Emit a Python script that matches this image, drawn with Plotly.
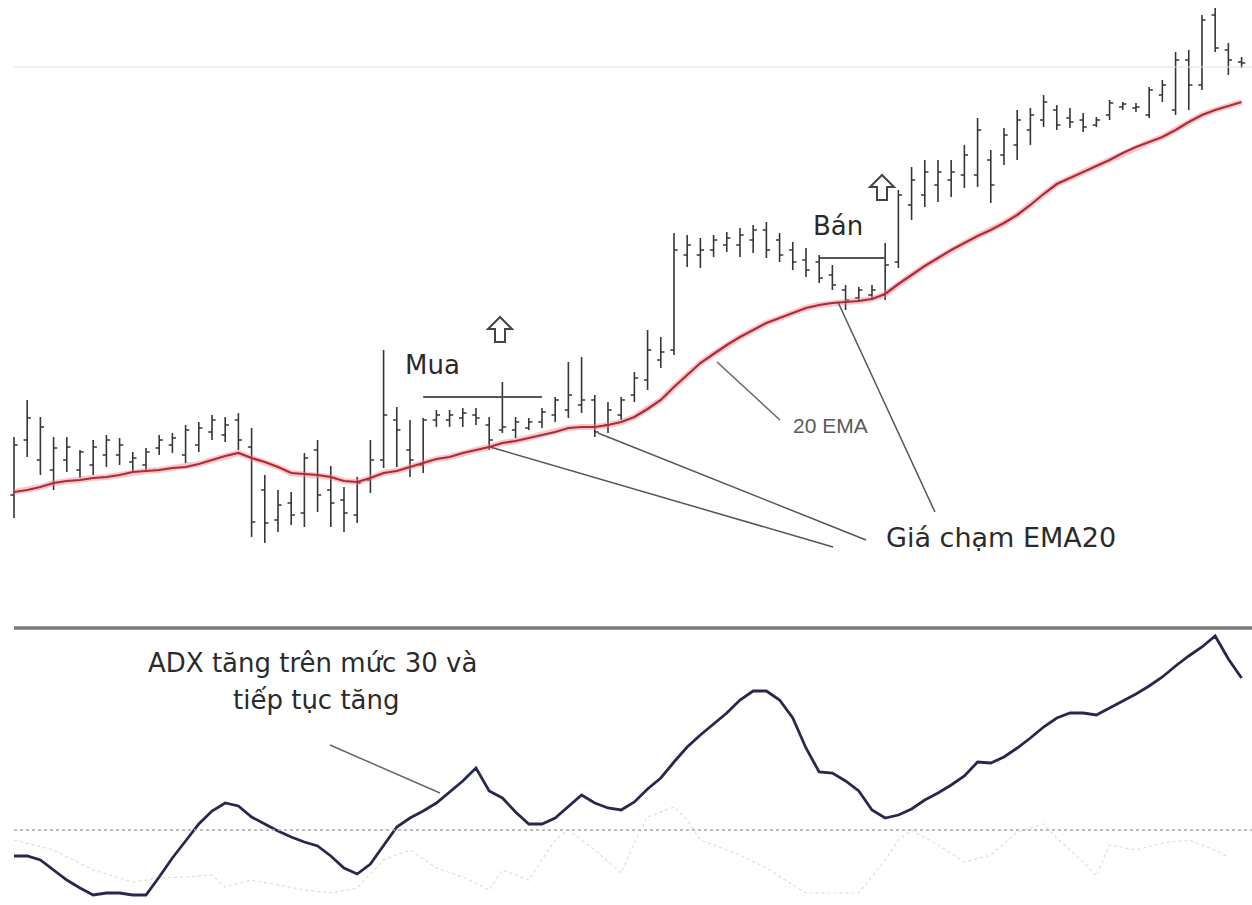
import plotly.graph_objects as go

# ---------------- data (price panel) ----------------
bar_idx = list(range(94))

high = [116.3, 120.0, 118.3, 116.3, 116.3, 115.0, 116.0, 116.5, 116.2, 114.8,
        115.2, 116.5, 116.7, 117.5, 117.8, 118.5, 118.3, 118.7, 117.2, 112.5,
        111.0, 110.8, 114.7, 116.0, 113.4, 111.3, 112.3, 116.0, 125.0, 119.3,
        118.0, 118.2, 119.0, 119.0, 119.2, 119.2, 118.3, 121.8, 118.3, 118.2,
        119.2, 120.3, 123.8, 124.3, 120.5, 119.8, 120.3, 122.8, 127.0, 126.3,
        136.7, 136.5, 136.2, 136.5, 136.8, 137.2, 137.5, 137.8, 136.7, 135.8,
        135.2, 134.5, 133.5, 131.5, 131.3, 131.5, 135.7, 141.0, 143.3, 144.0,
        144.0, 144.0, 145.5, 148.2, 145.0, 147.2, 149.0, 149.2, 150.5, 149.5,
        149.2, 148.7, 148.3, 150.0, 149.8, 149.7, 151.3, 152.0, 154.8, 155.0,
        158.5, 159.2, 155.7, 154.3]

low = [108.2, 114.3, 112.5, 111.0, 112.8, 112.2, 112.5, 113.3, 113.5, 112.8,
       112.9, 114.5, 114.7, 113.7, 114.8, 116.0, 115.8, 115.0, 106.3, 105.7,
       106.8, 107.5, 107.3, 108.8, 107.3, 106.8, 107.7, 110.7, 113.2, 113.3,
       112.3, 112.7, 117.3, 117.3, 117.3, 117.5, 115.0, 116.7, 116.2, 117.0,
       117.2, 117.8, 118.2, 118.7, 116.3, 116.7, 118.0, 119.8, 121.0, 123.2,
       124.5, 133.3, 133.2, 134.3, 134.8, 134.3, 134.7, 134.2, 133.8, 133.0,
       132.3, 131.7, 131.0, 129.0, 129.8, 130.0, 130.0, 133.2, 138.0, 139.3,
       139.8, 140.3, 141.2, 141.3, 139.7, 143.5, 144.0, 145.5, 147.3, 147.0,
       147.2, 146.8, 147.3, 148.0, 149.0, 148.8, 148.2, 149.8, 148.5, 149.0,
       151.0, 154.8, 152.5, 153.2]

open_ = [110.5, 116.0, 114.0, 113.0, 114.0, 113.0, 113.5, 114.5, 114.5, 113.8,
         113.5, 115.2, 115.5, 114.5, 115.5, 116.8, 116.5, 118.0, 115.3, 111.0,
         108.0, 109.7, 108.7, 115.0, 111.0, 110.0, 108.5, 112.0, 114.0, 118.0,
         115.0, 113.5, 118.0, 118.0, 118.2, 118.5, 117.5, 117.0, 117.0, 117.2,
         117.8, 118.5, 119.0, 119.5, 120.0, 117.5, 118.5, 120.5, 122.0, 124.0,
         125.0, 134.5, 134.5, 135.0, 135.5, 135.5, 136.0, 137.0, 136.0, 135.0,
         134.0, 133.8, 132.5, 131.0, 130.2, 130.5, 130.5, 133.8, 139.5, 140.5,
         141.5, 142.0, 142.5, 142.5, 144.0, 144.5, 145.5, 147.0, 148.0, 149.0,
         148.2, 148.0, 147.5, 148.5, 149.3, 149.2, 148.5, 150.5, 149.0, 154.0,
         151.5, 158.5, 155.0, 153.8]

close = [115.5, 118.2, 117.3, 115.2, 115.3, 114.8, 115.3, 116.0, 115.5, 114.2,
         114.8, 116.0, 116.2, 117.0, 117.2, 118.0, 117.5, 116.0, 107.8, 107.7,
         109.5, 108.5, 114.2, 110.5, 109.7, 108.7, 111.7, 114.0, 118.5, 117.0,
         114.0, 118.0, 118.5, 118.5, 118.7, 118.2, 116.0, 117.3, 117.8, 117.8,
         118.8, 120.0, 120.5, 120.0, 116.8, 119.0, 120.0, 122.2, 125.0, 124.8,
         135.0, 135.5, 135.0, 136.0, 136.2, 136.5, 137.0, 135.0, 134.5, 133.8,
         133.0, 132.2, 131.5, 130.0, 131.0, 131.0, 133.5, 140.5, 142.0, 142.8,
         142.8, 142.8, 144.5, 147.0, 141.5, 146.5, 148.0, 148.5, 149.8, 147.5,
         147.8, 147.3, 148.0, 149.7, 149.6, 149.3, 151.0, 151.5, 154.0, 151.5,
         158.0, 155.2, 154.0, 153.7]

ema20 = [110.8, 111.0, 111.3, 111.7, 111.9, 112.0, 112.2, 112.3, 112.5, 112.8,
         112.9, 113.0, 113.2, 113.3, 113.6, 114.0, 114.4, 114.7, 114.2, 113.8,
         113.3, 112.7, 112.6, 112.5, 112.3, 111.9, 111.8, 112.2, 112.7, 112.9,
         113.3, 113.7, 114.1, 114.3, 114.7, 115.0, 115.3, 115.7, 115.9, 116.2,
         116.5, 116.8, 117.2, 117.3, 117.3, 117.5, 117.8, 118.3, 119.1, 120.0,
         121.3, 122.5, 123.7, 124.6, 125.5, 126.3, 127.0, 127.7, 128.2, 128.7,
         129.2, 129.5, 129.7, 129.8, 129.9, 130.1, 130.6, 131.6, 132.5, 133.4,
         134.2, 135.0, 135.7, 136.4, 137.0, 137.7, 138.5, 139.5, 140.6, 141.6,
         142.2, 142.8, 143.4, 144.0, 144.7, 145.3, 145.8, 146.3, 147.0, 147.8,
         148.5, 149.0, 149.4, 149.8]

# ---------------- data (ADX panel) ----------------
adx = [24.8, 24.8, 24.0, 22.0, 20.0, 18.4, 17.0, 17.4, 17.4, 17.0,
       17.0, 20.6, 24.4, 27.8, 31.2, 33.8, 35.4, 34.8, 32.6, 31.2,
       29.8, 28.6, 27.6, 26.8, 24.8, 22.4, 21.2, 23.2, 26.8, 30.6,
       32.4, 33.8, 35.4, 37.6, 39.8, 42.4, 37.8, 36.4, 33.6, 31.2,
       31.2, 32.4, 34.8, 37.0, 35.4, 34.4, 34.0, 35.6, 38.2, 40.4,
       43.6, 46.6, 49.0, 51.2, 53.4, 56.0, 57.8, 57.8, 56.0, 52.4,
       46.4, 41.6, 41.4, 39.8, 37.8, 34.0, 32.4, 33.0, 34.2, 36.0,
       37.4, 39.0, 40.8, 43.6, 43.4, 44.6, 46.4, 48.4, 50.6, 52.4,
       53.4, 53.4, 53.0, 54.4, 55.8, 57.2, 58.8, 60.6, 62.8, 64.8,
       66.6, 68.8, 64.2, 60.4]

di_idx = [0, 3, 6, 9, 11, 13, 15, 16, 18, 20, 22, 24, 26, 28, 30, 32, 34, 36,
          37, 39, 41, 42, 44, 46, 47, 48, 50, 51, 52, 55, 57, 60, 64, 66, 67,
          68, 70, 72, 74, 76, 78, 79, 81, 82, 83, 85, 87, 89, 91, 92]
di_val = [28.0, 26.0, 22.0, 19.6, 20.4, 20.6, 21.0, 18.6, 20.0, 19.0, 18.0,
          17.4, 18.4, 24.0, 26.0, 22.4, 20.6, 18.0, 22.0, 20.0, 28.0, 30.0,
          26.0, 21.4, 27.4, 32.6, 34.6, 32.0, 28.0, 25.0, 22.4, 17.4, 17.4,
          24.0, 28.0, 30.0, 27.0, 23.6, 25.0, 29.6, 31.2, 28.4, 23.6, 20.8,
          27.0, 26.0, 27.4, 28.0, 26.0, 24.6]

adx_level = 30
level_price = 153.3

BAR = "#363636"
TXT = "#2b2b2b"

fig = go.Figure()

# EMA halo + line
fig.add_trace(go.Scatter(x=bar_idx, y=ema20, mode="lines",
                         line=dict(color="rgba(235,130,140,0.45)", width=6),
                         hoverinfo="skip", showlegend=False))
fig.add_trace(go.Scatter(x=bar_idx, y=ema20, mode="lines",
                         line=dict(color="#b02a35", width=2.2),
                         hoverinfo="skip", showlegend=False))

# OHLC bars
fig.add_trace(go.Ohlc(x=bar_idx, open=open_, high=high, low=low, close=close,
                      increasing=dict(line=dict(color=BAR, width=1.6)),
                      decreasing=dict(line=dict(color=BAR, width=1.6)),
                      tickwidth=0.28, hoverinfo="skip", showlegend=False))

# DI faint dotted line
fig.add_trace(go.Scatter(x=di_idx, y=di_val, mode="lines", xaxis="x2", yaxis="y2",
                         line=dict(color="rgba(200,200,185,0.6)", width=1.2, dash="dot"),
                         hoverinfo="skip", showlegend=False))
# ADX line
fig.add_trace(go.Scatter(x=bar_idx, y=adx, mode="lines", xaxis="x2", yaxis="y2",
                         line=dict(color="#27284f", width=2.8),
                         hoverinfo="skip", showlegend=False))

XR = [-1.06, 93.79]
top_dom = [295 / 905, 1]
bot_dom = [0, 277 / 905]

# hollow up-arrow outline (pixel-sized, anchored at a data point)
ARROW_PATH = "M 0 13 L -12 1 L -5 1 L -5 -12 L 5 -12 L 5 1 L 12 1 Z"


def up_arrow(xa, ya):
    return dict(type="path", xref="x", yref="y", xsizemode="pixel", ysizemode="pixel",
                xanchor=xa, yanchor=ya, path=ARROW_PATH,
                line=dict(color="#444444", width=2), fillcolor="white")


shapes = [
    # faint reference line at top
    dict(type="line", xref="x", yref="y", x0=0, x1=XR[1], y0=level_price, y1=level_price,
         line=dict(color="#e2e2e2", width=1.2)),
    # Mua level
    dict(type="line", xref="x", yref="y", x0=31.0, x1=40.0, y0=120.3, y1=120.3,
         line=dict(color="#555555", width=2)),
    # Bán level
    dict(type="line", xref="x", yref="y", x0=61.06, x1=66.06, y0=134.2, y1=134.2,
         line=dict(color="#555555", width=2)),
    # 20 EMA leader
    dict(type="line", xref="x", yref="y", x0=53.26, y0=123.8, x1=58.03, y1=118.0,
         line=dict(color="#666666", width=1.5)),
    # Giá chạm EMA20 leaders
    dict(type="line", xref="x", yref="y", x0=36.06, y0=115.3, x1=62.05, y1=105.3,
         line=dict(color="#555555", width=1.5)),
    dict(type="line", xref="x", yref="y", x0=44.24, y0=116.7, x1=64.55, y1=106.0,
         line=dict(color="#555555", width=1.5)),
    dict(type="line", xref="x", yref="y", x0=62.42, y0=129.8, x1=69.77, y1=108.8,
         line=dict(color="#555555", width=1.5)),
    # separator between panels
    dict(type="line", xref="x", yref="paper", x0=0, x1=XR[1], y0=bot_dom[1], y1=bot_dom[1],
         line=dict(color="#7a7a7a", width=3.5)),
    # ADX 30 level
    dict(type="line", xref="x2", yref="y2", x0=0, x1=XR[1], y0=adx_level, y1=adx_level,
         line=dict(color="#a8a8a8", width=1.5, dash="dot")),
    # ADX leader
    dict(type="line", xref="x2", yref="y2", x0=23.94, y0=47.0, x1=32.27, y1=37.4,
         line=dict(color="#666666", width=1.5)),
    up_arrow(36.82, 127.0),
    up_arrow(65.76, 141.2),
]

TF = "DejaVu Sans"
annotations = [
    dict(x=31.74, y=123.5, xref="x", yref="y", text="Mua", showarrow=False,
         font=dict(family=TF, size=26, color=TXT)),
    dict(x=62.42, y=137.4, xref="x", yref="y", text="Bán", showarrow=False,
         font=dict(family=TF, size=26, color=TXT)),
    dict(x=61.89, y=117.5, xref="x", yref="y", text="20 EMA", showarrow=False,
         font=dict(family="Liberation Sans", size=21, color="#5a5a5a")),
    dict(x=74.8, y=106.3, xref="x", yref="y", text="Giá chạm EMA20", showarrow=False,
         font=dict(family=TF, size=27, color=TXT)),
    dict(x=22.65, y=63.4, xref="x2", yref="y2", text="ADX tăng trên mức 30 và", showarrow=False,
         font=dict(family=TF, size=26, color=TXT)),
    dict(x=22.9, y=56.0, xref="x2", yref="y2", text="tiếp tục tăng", showarrow=False,
         font=dict(family=TF, size=26, color=TXT)),
]

fig.update_layout(
    width=1252, height=905,
    margin=dict(l=0, r=0, t=0, b=0),
    paper_bgcolor="white", plot_bgcolor="white",
    showlegend=False,
    xaxis=dict(domain=[0, 1], range=XR, visible=False, anchor="y",
               rangeslider=dict(visible=False)),
    yaxis=dict(domain=top_dom, range=[99, 160], visible=False, anchor="x"),
    xaxis2=dict(domain=[0, 1], range=XR, visible=False, anchor="y2"),
    yaxis2=dict(domain=bot_dom, range=[15, 70.4], visible=False, anchor="x2"),
    shapes=shapes,
    annotations=annotations,
)

fig.write_html("out.html", config={"displayModeBar": False},
               post_script="document.body.style.margin='0';")
